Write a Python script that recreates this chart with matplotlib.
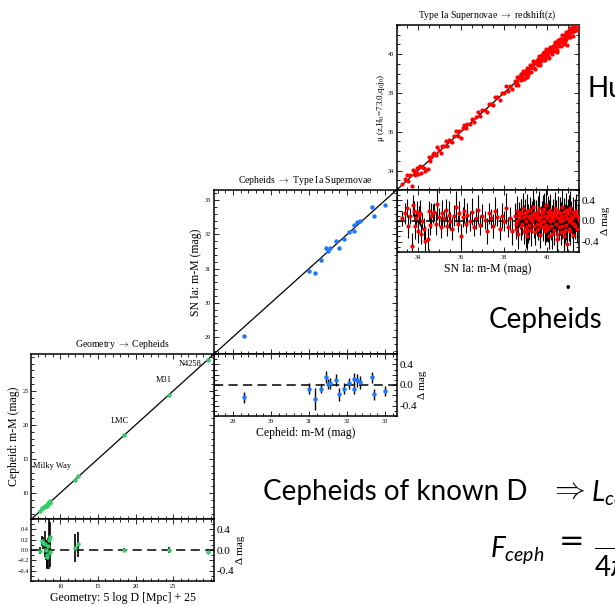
import matplotlib.pyplot as plt
from matplotlib.ticker import MultipleLocator, FixedLocator
import numpy as np

plt.rcParams['font.family'] = ['Liberation Serif', 'DejaVu Serif']
plt.rcParams['mathtext.fontset'] = 'custom'
plt.rcParams['mathtext.rm'] = 'Lato'
plt.rcParams['mathtext.it'] = 'Lato:italic'
plt.rcParams['mathtext.bf'] = 'Lato:bold'

W, H = 615, 606

# rung 1: geometric distance modulus vs Cepheid residual
geo_mu = [7.33, 7.62, 7.70, 8.05, 8.15, 8.25, 8.32, 8.40, 8.55, 8.60, 8.65,
          11.95, 12.40, 18.48, 24.42, 29.55]
geo_res = [-0.01, 0.17, 0.13, 0.11, 0.00, -0.09, -0.13, 0.08, 0.19, 0.25, -0.03,
           0.04, 0.11, 0.00, 0.00, -0.03]
geo_err = [0.06, 0.10, 0.12, 0.25, 0.20, 0.28, 0.22, 0.15, 0.55, 0.30, 0.30,
           0.27, 0.24, 0.04, 0.05, 0.04]
landmarks = ['Milky Way', 'LMC', 'M31', 'N4258']

# rung 2: Cepheid distance of SN Ia hosts vs SN Ia residual
ceph_mu = [29.28, 31.00, 31.15, 31.32, 31.45, 31.50, 31.56, 31.70, 31.78,
           31.93, 32.05, 32.17, 32.17, 32.27, 32.33, 32.66, 32.72, 32.99]
host_res = [-0.24, -0.07, -0.27, -0.07, 0.15, 0.02, 0.03, 0.10, -0.18,
            -0.07, 0.03, 0.12, -0.07, 0.09, 0.05, 0.15, -0.18, -0.12]
host_err = [0.10, 0.11, 0.21, 0.09, 0.12, 0.10, 0.10, 0.12, 0.13,
            0.10, 0.10, 0.12, 0.11, 0.12, 0.12, 0.11, 0.11, 0.10]

# rung 3: SN Ia distance modulus vs redshift-based residual
sn_mu = [33.25, 33.40, 33.50, 33.55, 33.65, 33.70, 33.75, 33.80, 33.85, 33.90,
         33.95, 34.00, 34.05, 34.10, 34.15, 34.20, 34.30, 34.35, 34.45, 34.50,
         34.55, 34.60, 34.70, 34.75, 34.85, 34.90, 35.00, 35.05, 35.10, 35.20,
         35.30, 35.35, 35.45, 35.50, 35.60, 35.70, 35.75, 35.85, 35.90, 36.00,
         36.10, 36.15, 36.25, 36.30, 36.40, 36.50, 36.60, 36.70, 36.80, 36.90,
         37.00, 37.10, 37.20, 37.30, 37.40, 37.50, 37.60, 37.70, 37.80, 37.90,
         38.00, 38.10, 38.20, 38.30, 38.40,
         38.50, 38.55, 38.60, 38.62, 38.68, 38.70, 38.75, 38.78, 38.82, 38.85,
         38.90, 38.92, 38.95, 39.00, 39.02, 39.05, 39.08, 39.10, 39.14, 39.18,
         39.20, 39.22, 39.26, 39.30, 39.33, 39.36, 39.40, 39.42, 39.45, 39.50,
         39.52, 39.55, 39.58, 39.60, 39.63, 39.66, 39.70, 39.72, 39.75, 39.78,
         39.80, 39.84, 39.87, 39.90, 39.92, 39.95, 39.98, 40.00, 40.03, 40.05,
         40.08, 40.10, 40.13, 40.16, 40.20, 40.22, 40.25, 40.28, 40.30, 40.33,
         40.36, 40.40, 40.42, 40.45, 40.48, 40.50, 40.53, 40.56, 40.60, 40.62,
         40.65, 40.68, 40.70, 40.73, 40.76, 40.80, 40.82, 40.85, 40.88, 40.90,
         40.93, 40.96, 41.00, 41.03, 41.05, 41.08, 41.10, 41.13, 41.16, 41.20,
         41.23, 41.26, 41.30, 41.33, 41.36, 41.40, 41.44, 41.48, 39.12, 40.15,
         38.58, 38.80, 39.03, 39.28, 39.48, 39.68, 39.88, 40.06, 40.26, 40.46,
         40.64, 40.84, 41.02, 41.18, 41.38, 39.58, 39.95, 40.38, 40.78, 41.12]
sn_res = [0.05, 0.15, 0.25, -0.10, 0.10, -0.48, 0.30, 0.20, -0.10, 0.05,
          0.18, -0.20, 0.12, 0.15, -0.25, 0.00, -0.15, -0.38, -0.35, 0.20,
          -0.08, 0.10, 0.15, 0.18, -0.05, 0.32, 0.08, -0.12, 0.15, 0.05,
          0.22, -0.10, 0.12, 0.00, -0.15, 0.10, 0.28, -0.05, 0.15, -0.30,
          0.08, 0.20, -0.05, 0.12, 0.00, 0.18, -0.12, 0.05, 0.22, -0.08,
          0.10, 0.02, -0.20, 0.15, 0.05, -0.10, 0.20, 0.08, -0.15, 0.10,
          0.00, 0.25, -0.12, 0.05, -0.20,
          0.10, -0.15, 0.20, 0.00, -0.25, 0.12, 0.05, -0.10, 0.18, -0.05,
          0.25, -0.20, 0.08, 0.15, -0.12, 0.00, 0.20, -0.30, 0.10, -0.08,
          0.22, 0.05, -0.18, 0.12, 0.00, 0.28, -0.10, 0.15, -0.22, 0.05,
          0.10, -0.05, 0.18, -0.15, 0.02, 0.25, -0.28, 0.08, -0.02, 0.15,
          -0.12, 0.20, 0.00, -0.20, 0.10, 0.30, -0.08, 0.05, -0.15, 0.18,
          -0.30, 0.12, 0.00, 0.22, -0.10, 0.08, -0.25, 0.15, 0.02, -0.18,
          0.10, 0.25, -0.05, 0.12, -0.35, 0.05, 0.20, -0.12, 0.00, 0.15,
          -0.22, 0.08, 0.28, -0.10, 0.02, -0.30, 0.18, 0.10, -0.08, 0.22,
          -0.45, 0.05, 0.15, -0.15, 0.00, 0.25, -0.20, 0.10, 0.05, -0.28,
          0.18, -0.05, 0.12, -0.10, 0.20, -0.15, 0.08, 0.02, -0.18, 0.14,
          -0.05, 0.16, -0.22, 0.06, 0.12, -0.08, 0.24, -0.14, 0.03, -0.26,
          0.09, -0.18, 0.21, -0.04, 0.11, 0.07, -0.11, 0.17, -0.21, 0.04]
sn_err = [0.15, 0.20, 0.18, 0.22, 0.16, 0.25, 0.20, 0.18, 0.24, 0.15,
          0.20, 0.22, 0.17, 0.25, 0.19, 0.16, 0.21, 0.28, 0.22, 0.18,
          0.20, 0.24, 0.18, 0.16, 0.22, 0.30, 0.18, 0.20, 0.25, 0.17,
          0.21, 0.19, 0.26, 0.18, 0.22, 0.20, 0.30, 0.17, 0.23, 0.25,
          0.19, 0.24, 0.18, 0.22, 0.20, 0.26, 0.18, 0.21, 0.28, 0.20,
          0.22, 0.18, 0.25, 0.20, 0.19, 0.23, 0.27, 0.18, 0.22, 0.24,
          0.20, 0.30, 0.19, 0.22, 0.26,
          0.25, 0.20, 0.28, 0.22, 0.30, 0.24, 0.21, 0.27, 0.25, 0.22,
          0.30, 0.24, 0.22, 0.28, 0.25, 0.21, 0.32, 0.26, 0.23, 0.29,
          0.25, 0.22, 0.30, 0.27, 0.24, 0.32, 0.22, 0.28, 0.25, 0.21,
          0.27, 0.24, 0.30, 0.22, 0.26, 0.33, 0.25, 0.21, 0.28, 0.24,
          0.26, 0.30, 0.22, 0.27, 0.25, 0.34, 0.23, 0.28, 0.24, 0.30,
          0.25, 0.28, 0.22, 0.31, 0.26, 0.23, 0.30, 0.27, 0.24, 0.29,
          0.26, 0.32, 0.24, 0.28, 0.30, 0.22, 0.29, 0.25, 0.27, 0.31,
          0.25, 0.28, 0.33, 0.24, 0.26, 0.30, 0.27, 0.23, 0.29, 0.32,
          0.35, 0.25, 0.28, 0.24, 0.30, 0.33, 0.26, 0.29, 0.22, 0.31,
          0.28, 0.25, 0.30, 0.24, 0.32, 0.27, 0.26, 0.30, 0.24, 0.28,
          0.22, 0.27, 0.30, 0.25, 0.28, 0.24, 0.31, 0.26, 0.23, 0.30,
          0.27, 0.25, 0.30, 0.28, 0.26, 0.24, 0.29, 0.25, 0.31, 0.27]


def box(x0, y0, x1, y1):
    # pixel box (top-left origin) -> figure fraction rect
    return [x0 / W, 1 - y1 / H, (x1 - x0) / W, (y1 - y0) / H]


def style(ax):
    ax.set_facecolor('white')
    ax.tick_params(which='both', direction='in', top=True, right=True,
                   labelsize=4.5, width=0.6, pad=2)
    ax.tick_params(which='major', length=3.5)
    ax.tick_params(which='minor', length=2)
    for s in ax.spines.values():
        s.set_linewidth(1.1)


def ladder_panel(x0, x1, y0, y1, y2, lim, ticks, minor, title, xlabel,
                 ylabel, res_left=False):
    ax = fig.add_axes(box(x0, y0, x1, y1))
    axr = fig.add_axes(box(x0, y1, x1, y2), sharex=ax)
    for a in (ax, axr):
        style(a)
    ax.set_xlim(lim)
    ax.set_ylim(lim)
    ax.xaxis.set_major_locator(FixedLocator(ticks))
    ax.yaxis.set_major_locator(FixedLocator(ticks))
    ax.xaxis.set_minor_locator(MultipleLocator(minor))
    ax.yaxis.set_minor_locator(MultipleLocator(minor))
    ax.tick_params(labelbottom=False)
    ax.plot(lim, lim, color='k', lw=0.9, zorder=2)
    ax.set_title(title, fontsize=7, pad=5, math_fontfamily='cm')
    ax.set_ylabel(ylabel, fontsize=8.5, labelpad=2)

    axr.set_ylim(-0.6, 0.6)
    axr.yaxis.set_major_locator(FixedLocator([-0.4, -0.2, 0.0, 0.2, 0.4]))
    axr.yaxis.set_minor_locator(MultipleLocator(0.1))
    axr.yaxis.set_major_formatter('{x:.1f}')
    axr.tick_params(labelleft=res_left)
    axr.axhline(0, color='k', lw=1.1, ls=(0, (6, 3.5)), zorder=1)
    axr.set_xlabel(xlabel, fontsize=8.5, labelpad=2)

    sec = axr.secondary_yaxis('right')
    sec.set_yticks([-0.4, 0.0, 0.4])
    sec.set_yticklabels(['-0.4', '0.0', '0.4'])
    sec.tick_params(length=0, labelsize=8, pad=2)
    sec.spines['right'].set_visible(False)
    sec.set_ylabel('Δ mag', fontsize=8, labelpad=1)
    return ax, axr


fig = plt.figure(figsize=(6.15, 6.06), dpi=100)

# SN Ia -> redshift (drawn first so the lower panels sit on top)
ax3, ax3r = ladder_panel(396.5, 579, 25, 190, 252, (33.0, 41.5),
                         [34, 36, 38, 40], 0.5,
                         r'Type Ia Supernovae $\rightarrow$ redshift(z)',
                         'SN Ia: m-M (mag)', '')
ax3.set_ylabel('μ (z,H$_0$=73.0,q$_0$j$_0$)', fontsize=6.5, labelpad=0,
               math_fontfamily='stix')
sn_x = np.array(sn_mu)
sn_r = np.array(sn_res)
ax3.plot(sn_x, sn_x + sn_r, 'o', color='red', ms=3.0, mec='none', zorder=3)
ax3r.errorbar(sn_x, sn_r, yerr=sn_err, fmt='none', ecolor='k',
              elinewidth=0.8, capsize=0, zorder=2)
ax3r.plot(sn_x, sn_r, 'o', color='red', ms=3.0, mec='none', zorder=3)

# Cepheids -> SN Ia hosts
ax2, ax2r = ladder_panel(214, 396.5, 190, 354, 416, (28.5, 33.3),
                         [29, 30, 31, 32, 33], 0.2,
                         r'Cepheids $\rightarrow$ Type Ia Supernovae',
                         'Cepheid: m-M (mag)', 'SN Ia: m-M (mag)')
c_x = np.array(ceph_mu)
c_r = np.array(host_res)
ax2.plot(c_x, c_x + c_r, 'o', color='#1e78ff', ms=3.2, mec='none', zorder=3)
ax2r.errorbar(c_x, c_r, yerr=host_err, fmt='none', ecolor='k',
              elinewidth=1.0, capsize=0, zorder=2)
ax2r.plot(c_x, c_r, 'o', color='#1e78ff', ms=3.2, mec='none', zorder=3)

# geometry -> Cepheids
ax1, ax1r = ladder_panel(31.5, 214, 354, 519, 581, (6.2, 30.4),
                         [10, 15, 20, 25], 1,
                         r'Geometry $\rightarrow$ Cepheids',
                         'Geometry: 5 log D [Mpc] + 25', 'Cepheid: m-M (mag)',
                         res_left=True)
g_x = np.array(geo_mu)
g_r = np.array(geo_res)
ax1.plot(g_x, g_x + g_r, 'o', color='#33cc66', ms=3.2, mec='none', zorder=3)
ax1r.errorbar(g_x, g_r, yerr=geo_err, fmt='none', ecolor='k',
              elinewidth=1.2, capsize=0, zorder=2)
ax1r.plot(g_x, g_r, 'o', color='#33cc66', ms=3.2, mec='none', zorder=3)
for name, (tx, ty, ha) in zip(landmarks, [(6.4, 14.0, 'left'), (17.9, 20.6, 'center'),
                                           (23.7, 26.6, 'center'), (27.3, 29.0, 'center')]):
    ax1.text(tx, ty, name, fontsize=6, ha=ha, va='center')

# slide text around the ladder
slide = dict(family='Lato', fontsize=20, va='baseline')
fig.text(588 / W, 1 - 97 / H, 'Hubble', **slide)
fig.text(565 / W, 1 - 289 / H, '.', **slide)
fig.text(489 / W, 1 - 328 / H, 'Cepheids', **slide)
fig.text(263 / W, 1 - 500 / H, 'Cepheids of known D', **slide)
fig.text(549 / W, 1 - 498 / H, r'$\Rightarrow$', family='Lato', fontsize=22,
         va='baseline', math_fontfamily='cm')
fig.text(591 / W, 1 - 500 / H, r'$L_{ceph}$', **slide)
fig.text(490 / W, 1 - 556 / H, r'$F_{ceph}$', **slide)
fig.text(559 / W, 1 - 550 / H, '=', family='DejaVu Sans', fontsize=22, va='baseline')
fig.text(594 / W, 1 - 556 / H, r'$\dfrac{L}{4\pi D^2}$', **slide)

fig.savefig('out.png', dpi=100)
